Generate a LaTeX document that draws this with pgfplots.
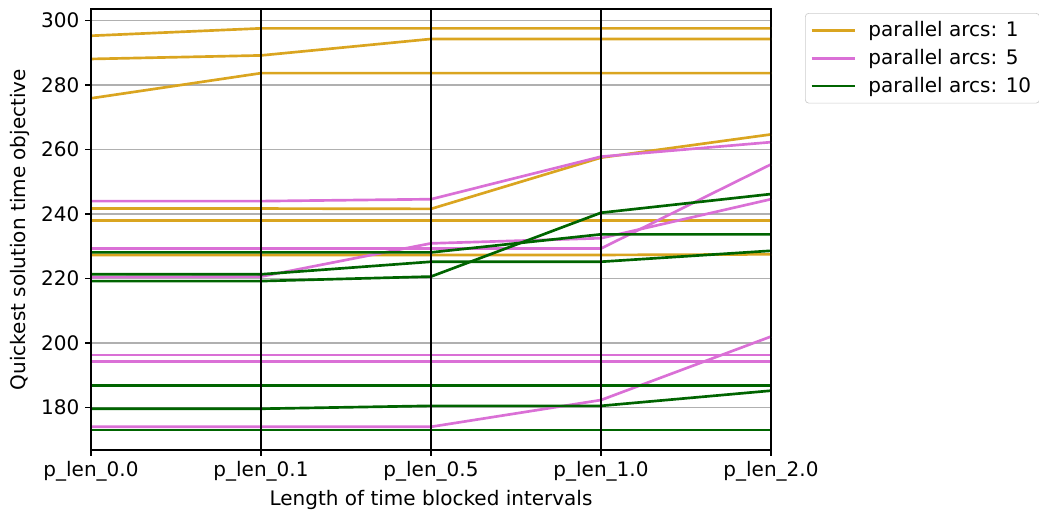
\documentclass[border=0pt]{standalone}
\usepackage{fontspec}
\setmainfont{DejaVu Sans}
\usepackage{pgfplots}
\pgfplotsset{compat=1.18}
\definecolor{c1}{HTML}{DAA520}
\definecolor{c2}{HTML}{DA70D6}
\definecolor{c3}{HTML}{006400}
\definecolor{gridc}{HTML}{B0B0B0}
\definecolor{legc}{HTML}{CCCCCC}
\pgfplotsset{ser/.style={line width=1.6pt, forget plot}}
\begin{document}
\begin{tikzpicture}
\useasboundingbox (0,0) rectangle (623.4pt,309pt);
\begin{axis}[
  at={(54.6pt,39pt)}, anchor=south west,
  width=408pt, height=264.6pt, scale only axis,
  xmin=0, xmax=4, ymin=166.8, ymax=303.6,
  xtick={0,1,2,3,4},
  xticklabels={p\_len\_0.0,p\_len\_0.1,p\_len\_0.5,p\_len\_1.0,p\_len\_2.0},
  ytick={180,200,220,240,260,280,300},
  xtick pos=lower, ytick pos=left,
  tick align=outside, major tick length=3.5pt,
  tick style={black, line width=0.8pt},
  axis line style={black, line width=0.8pt},
  ymajorgrids, xmajorgrids,
  grid style={gridc, line width=0.8pt},
  /pgf/number format/assume math mode=true,
  ticklabel style={font=\fontsize{12}{14.4}\selectfont},
  label style={font=\fontsize{12}{14.4}\selectfont},
  xlabel={Length of time blocked intervals},
  ylabel={Quickest solution time objective},
  xlabel style={at={(axis description cs:0.5,-0.113)}, anchor=center},
  ylabel style={at={(axis description cs:-0.104,0.5)}, anchor=center, rotate=0},
  legend style={at={(1.05,1)}, anchor=north west, yshift=-2.4pt, draw=legc, rounded corners=2pt,
    fill=white, font=\fontsize{12}{14.4}\selectfont, inner sep=3pt,
    row sep=2pt, cells={anchor=west}},
  legend image code/.code={\draw[#1, line width=1.6pt] (0pt,0pt) -- (26pt,0pt); \path[draw=none, fill=none] (32pt,0pt) circle (0pt);},
]
\addlegendimage{c1}
\addlegendentry{parallel arcs: 1}
\addlegendimage{c2}
\addlegendentry{parallel arcs: 5}
\addlegendimage{c3}
\addlegendentry{parallel arcs: 10}
% parallel arcs: 1
\addplot[c1, ser] coordinates {(0,295.3) (1,297.6) (2,297.6) (3,297.6) (4,297.6)};
\addplot[c1, ser] coordinates {(0,288.1) (1,289.2) (2,294.3) (3,294.3) (4,294.3)};
\addplot[c1, ser] coordinates {(0,275.9) (1,283.7) (2,283.7) (3,283.7) (4,283.7)};
\addplot[c1, ser] coordinates {(0,241.7) (1,241.7) (2,241.6) (3,257.5) (4,264.7)};
\addplot[c1, ser] coordinates {(0,238.0) (1,238.0) (2,238.0) (3,238.0) (4,238.0)};
\addplot[c1, ser] coordinates {(0,227.3) (1,227.3) (2,227.3) (3,227.3) (4,227.5)};
% parallel arcs: 5
\addplot[c2, ser] coordinates {(0,244.0) (1,244.0) (2,244.6) (3,257.8) (4,262.3)};
\addplot[c2, ser] coordinates {(0,229.3) (1,229.3) (2,229.3) (3,229.3) (4,255.4)};
\addplot[c2, ser] coordinates {(0,220.4) (1,220.6) (2,230.9) (3,232.5) (4,244.6)};
\addplot[c2, ser] coordinates {(0,196.3) (1,196.3) (2,196.3) (3,196.3) (4,196.3)};
\addplot[c2, ser] coordinates {(0,194.2) (1,194.2) (2,194.2) (3,194.2) (4,194.2)};
\addplot[c2, ser] coordinates {(0,174.0) (1,174.0) (2,174.0) (3,182.3) (4,202.0)};
% parallel arcs: 10
\addplot[c3, ser] coordinates {(0,228.1) (1,228.1) (2,228.1) (3,233.7) (4,233.7)};
\addplot[c3, ser] coordinates {(0,221.3) (1,221.3) (2,225.2) (3,225.2) (4,228.6)};
\addplot[c3, ser] coordinates {(0,219.2) (1,219.2) (2,220.6) (3,240.4) (4,246.2)};
\addplot[c3, ser] coordinates {(0,186.9) (1,186.9) (2,186.9) (3,186.9) (4,186.9)};
\addplot[c3, ser] coordinates {(0,179.6) (1,179.6) (2,180.5) (3,180.5) (4,185.2)};
\addplot[c3, ser] coordinates {(0,173.0) (1,173.0) (2,173.0) (3,173.0) (4,173.0)};
% vertical axes
\addplot[black, line width=1pt, forget plot] coordinates {(0,166.8) (0,303.6)};
\addplot[black, line width=1pt, forget plot] coordinates {(1,166.8) (1,303.6)};
\addplot[black, line width=1pt, forget plot] coordinates {(2,166.8) (2,303.6)};
\addplot[black, line width=1pt, forget plot] coordinates {(3,166.8) (3,303.6)};
\addplot[black, line width=1pt, forget plot] coordinates {(4,166.8) (4,303.6)};
\end{axis}
\end{tikzpicture}
\end{document}
